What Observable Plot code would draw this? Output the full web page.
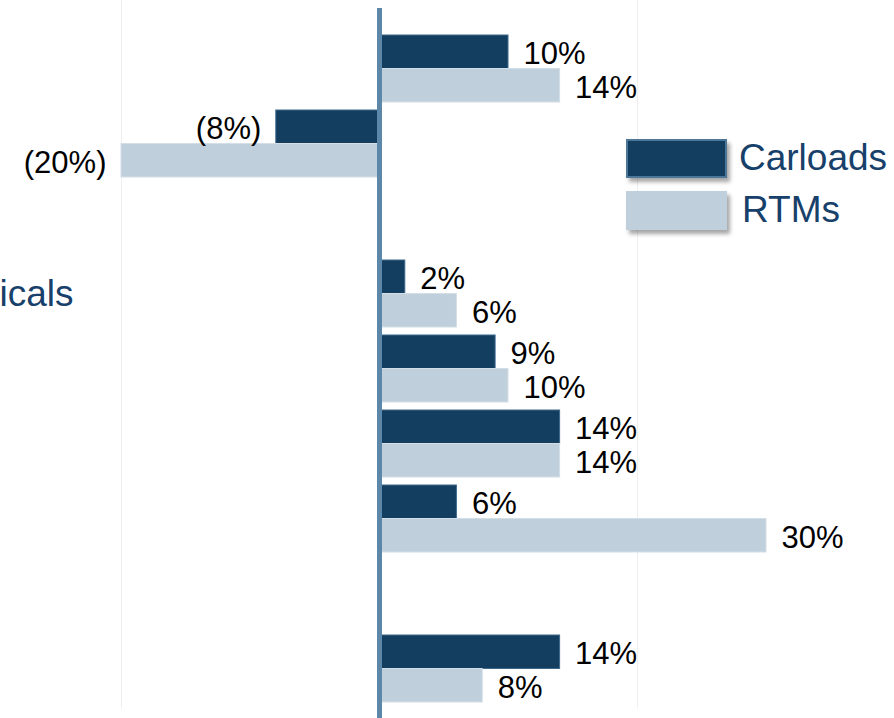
<!DOCTYPE html>
<html>
<head>
<meta charset="utf-8">
<script src="https://cdn.jsdelivr.net/npm/d3@7"></script>
<script src="https://cdn.jsdelivr.net/npm/@observablehq/plot@0.6"></script>
<style>
  html, body { margin: 0; padding: 0; background: #fff; overflow: hidden; }
  #wrap { position: relative; width: 894px; height: 718px; }
  #legend { position: absolute; left: 626px; top: 138px; font-family: "Liberation Sans", Arial, sans-serif; font-size: 37px; color: #17406a; }
  .item { display: flex; align-items: center; height: 40px; margin-bottom: 12px; }
  .sw { width: 101px; height: 39px; box-shadow: 3px 4px 4px rgba(0,0,0,0.35); margin-right: 12px; box-sizing: border-box; }
</style>
</head>
<body>
<div id="wrap"></div>
<script>
// Data (9 row groups; groups 3 and 8 are empty)
const categories = ["cat1", "cat2", "cat3", "Chemicals", "cat5", "cat6", "cat7", "cat8", "cat9"];
const visibleLabels = ["Chemicals"];
const series = ["Carloads", "RTMs"];
const carloads = [10, -8, null, 2, 9, 14, 6, null, 14];
const rtms = [14, -20, null, 6, 10, 14, 30, null, 8];
const gridValues = [-20, 20];

const colors = {Carloads: "#143e5f", RTMs: "#bfcfdc"};
const strokes = {Carloads: "#3d6a8e", RTMs: "#d3dee7"};

const rows = [];
categories.forEach((c, i) => {
  if (carloads[i] != null) rows.push({cat: c, series: "Carloads", value: carloads[i]});
  if (rtms[i] != null) rows.push({cat: c, series: "RTMs", value: rtms[i]});
});
const fmt = v => v < 0 ? `(${Math.abs(v)}%)` : `${v}%`;

const W = 894, H = 718;
const zeroPx = 379, pxPer = 12.9;
const half = 33.5;

function labels(s, dy) {
  const d = rows.filter(r => r.series === s);
  return [
    Plot.text(d.filter(r => r.value >= 0), {
      x: "value", y: "cat", text: r => fmt(r.value), textAnchor: "start",
      dx: 15, dy, fontSize: 31, fill: "#000"
    }),
    Plot.text(d.filter(r => r.value < 0), {
      x: "value", y: "cat", text: r => fmt(r.value), textAnchor: "end",
      dx: -15, dy, fontSize: 31, fill: "#000"
    })
  ];
}

const chart = Plot.plot({
  width: W,
  height: H,
  marginLeft: 0,
  marginRight: 0,
  marginTop: 29,
  marginBottom: 9.5,
  style: {fontFamily: "'Liberation Sans', Arial, sans-serif", background: "white", overflow: "visible"},
  x: {domain: [-zeroPx / pxPer, (W - zeroPx) / pxPer], range: [0, W], axis: null},
  y: {domain: categories, paddingInner: 0.113, paddingOuter: 0.0565, axis: null},
  marks: [
    Plot.ruleX(gridValues, {stroke: "#eeeeee", strokeWidth: 1, insetTop: -29}),
    Plot.barX(rows.filter(d => d.series === "Carloads"), {
      x: "value", y: "cat", fill: colors.Carloads, stroke: strokes.Carloads, strokeWidth: 1, insetBottom: half
    }),
    Plot.barX(rows.filter(d => d.series === "RTMs"), {
      x: "value", y: "cat", fill: colors.RTMs, stroke: strokes.RTMs, strokeWidth: 1, insetTop: half
    }),
    ...labels("Carloads", -half / 2 + 2),
    ...labels("RTMs", half / 2 + 2),
    Plot.text(visibleLabels, {
      y: d => d, text: d => d, frameAnchor: "left", textAnchor: "end", dx: 73, dy: 0,
      fontSize: 37, fill: "#17406a"
    }),
    Plot.ruleX([0], {stroke: "#5d87a8", strokeWidth: 5, insetTop: -21, insetBottom: -9.5})
  ]
});
document.getElementById("wrap").appendChild(chart);

// legend
const legend = document.createElement("div");
legend.id = "legend";
series.forEach(s => {
  const item = document.createElement("div");
  item.className = "item";
  const sw = document.createElement("div");
  sw.className = "sw";
  sw.style.background = colors[s];
  sw.style.border = s === "Carloads" ? "2px solid #4d7799" : "none";
  const lab = document.createElement("span");
  lab.textContent = s;
  if (s === "RTMs") lab.style.marginLeft = "3px";
  item.appendChild(sw);
  item.appendChild(lab);
  legend.appendChild(item);
});
document.getElementById("wrap").appendChild(legend);
</script>
</body>
</html>
